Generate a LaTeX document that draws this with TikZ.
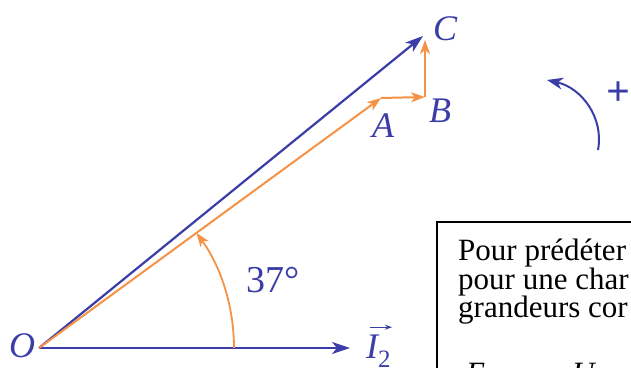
\documentclass[tikz,border=0pt]{standalone}
\usepackage{fontspec}
\setmainfont{Liberation Serif}
\usetikzlibrary{arrows.meta,calc}
\definecolor{vblue}{RGB}{60,62,168}
\definecolor{vorange}{RGB}{245,146,70}
\begin{document}
\begin{tikzpicture}[x=1pt,y=-1pt,
  bluevec/.style={draw=vblue,line width=2.2pt,-{Stealth[length=18pt,width=12pt,inset=5pt]}},
  orangevec/.style={draw=vorange,line width=2pt,-{Stealth[length=14pt,width=10pt,inset=4pt]}},
  anglearrow/.style={draw=vorange,line width=1.8pt,-{Stealth[length=14pt,width=10pt,inset=4pt]}},
  rotarrow/.style={draw=vblue,line width=2pt,-{Stealth[length=16pt,width=12pt,inset=5pt]}},
  lbl/.style={text=vblue,font=\fontsize{36}{36}\selectfont\itshape,inner sep=0pt,anchor=base},
  numlbl/.style={text=vblue,font=\fontsize{38}{38}\selectfont,inner sep=0pt,anchor=base},
  boxtext/.style={font=\fontsize{31}{31}\selectfont,inner sep=0pt,anchor=base west}]
\useasboundingbox (0,0) rectangle (631,367);
\clip (0,0) rectangle (631,367);
\fill[white] (0,0) rectangle (631,367);
% points
\coordinate (O) at (39,348);
\coordinate (I) at (350,348);
\coordinate (C) at (423,36);
\coordinate (A) at (381,98);
\coordinate (B) at (425,97);
\coordinate (Cv) at (425,40);
\coordinate (R1) at (598,150);
\coordinate (R2) at (547,80);
% vectors
\draw[bluevec] (O) -- (I);
\draw[bluevec] (O) -- (C);
\draw[orangevec] (O) -- (A);
\draw[orangevec] (A) -- (B);
\draw[orangevec] (B) -- (Cv);
% angle
\draw[anglearrow] (O) ++(195,0) arc[start angle=0,end angle=-36.2,radius=195];
% rotation sense
\draw[rotarrow] (R1) .. controls (604,118) and (582,88) .. (R2);
% labels
\node[lbl] (lO) at (22,357) {O};
\node[lbl] (lC) at (445,40) {C};
\node[lbl] (lB) at (440,122) {B};
\node[lbl] (lA) at (383,137) {A};
\node[lbl,anchor=base west] (lI) at (366,358) {I\raisebox{-9pt}{\fontsize{25}{25}\selectfont\upshape 2}};
\draw[vblue,line width=1.3pt,-{Stealth[length=7pt,width=5pt]}] ($(lI.north west)+(4,-7)$) -- ($(lI.north west)+(26,-7)$);
\node[numlbl] (ang) at (273,292) {37°};
\node[text=vblue,font=\fontsize{42}{42}\selectfont\bfseries,inner sep=0pt] (plus) at (618,94) {+};
% text box
\draw[line width=1.5pt] (437,222) rectangle (700,420);
\node[boxtext] (t1) at (458,260) {Pour prédéter};
\node[boxtext] (t2) at (458,289) {pour une char};
\node[boxtext] (t3) at (458,317) {grandeurs cor};
\node[boxtext,font=\fontsize{31}{31}\selectfont\itshape] (t4) at (466,383) {E};
\node[boxtext,font=\fontsize{31}{31}\selectfont\itshape] (t5) at (572,383) {U};
\end{tikzpicture}
\end{document}
